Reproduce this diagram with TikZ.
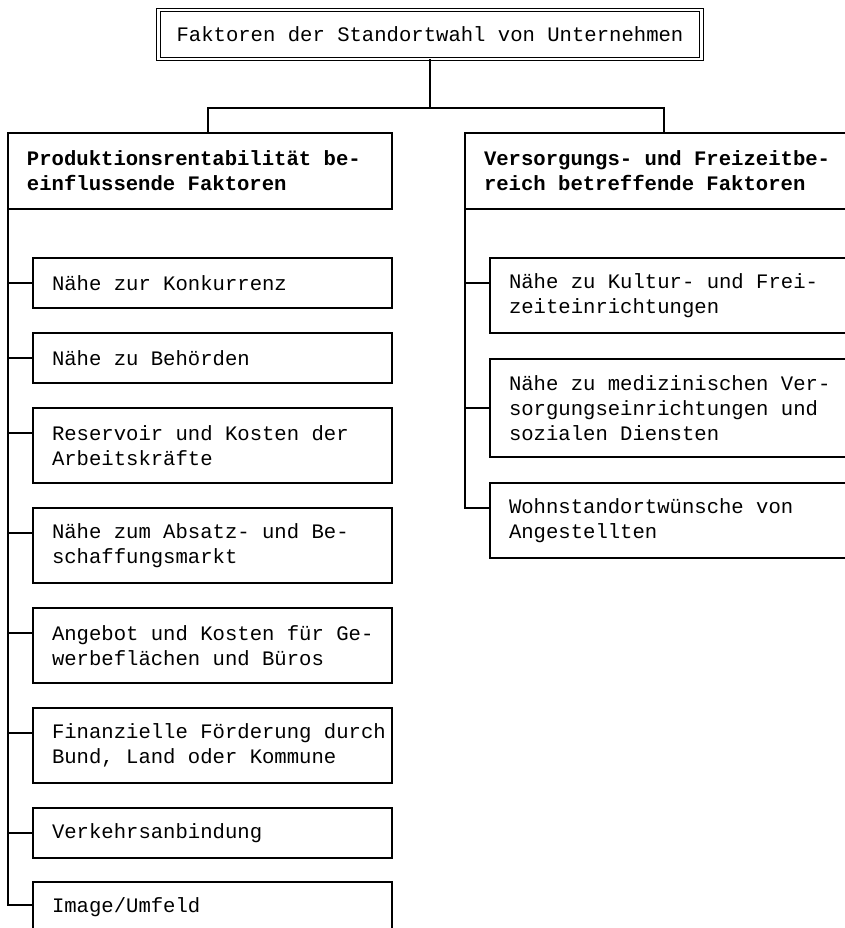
\documentclass[tikz,border=0pt]{standalone}
\usepackage{fontspec}
\setmonofont{Liberation Mono}
\begin{document}
\begin{tikzpicture}[x=1pt,y=-1pt, line width=1.1pt,
  base/.style={draw, line width=1.1pt, anchor=north west, outer sep=0pt, align=left,
    inner xsep=19pt, inner ysep=0pt, font=\ttfamily\fontsize{20.6}{25}\selectfont,
    execute at begin node={\spaceskip=0pt\xspaceskip=0pt\hfuzz=30pt}},
  lbox/.style={base, text width=321pt},
  rbox/.style={base, text width=352pt},
  hbox/.style={base, minimum height=76pt, font=\ttfamily\bfseries\fontsize{20.6}{25}\selectfont},
  titlebox/.style={draw, line width=1pt, double, double distance=2.4pt, outer sep=0pt,
    minimum width=543pt, minimum height=49pt, inner sep=0pt,
    font=\ttfamily\fontsize{20.6}{25}\selectfont},
  conn/.style={line width=1.2pt}
]
\useasboundingbox (0,0) rectangle (845,928);
\clip (0,0) rectangle (845,928);

\node[titlebox] (title) at (430,34.5) {Faktoren der Standortwahl von Unternehmen};

\node[hbox, text width=346pt] (lh) at (8,133) {\mbox{Produktionsrentabilität be-}\\einflussende Faktoren};
\node[hbox, text width=377pt] (rh) at (465,133) {Versorgungs- und Freizeitbe-\\reich betreffende Faktoren};

\node[lbox, minimum height=50pt] (c1) at (33,258) {Nähe zur Konkurrenz};
\node[lbox, minimum height=50pt] (c2) at (33,333) {Nähe zu Behörden};
\node[lbox, minimum height=75pt] (c3) at (33,408) {Reservoir und Kosten der\\Arbeitskräfte};
\node[lbox, minimum height=75pt] (c4) at (33,508) {Nähe zum Absatz- und Be-\\schaffungsmarkt};
\node[lbox, minimum height=75pt] (c5) at (33,608) {\mbox{Angebot und Kosten für Ge-}\\werbeflächen und Büros};
\node[lbox, minimum height=75pt] (c6) at (33,708) {\mbox{Finanzielle Förderung durch}\\Bund, Land oder Kommune};
\node[lbox, minimum height=50pt] (c7) at (33,808) {Verkehrsanbindung};
\node[lbox, minimum height=50pt] (c8) at (33,882) {Image/Umfeld};

\node[rbox, minimum height=75pt] (r1) at (490,258) {Nähe zu Kultur- und Frei-\\zeiteinrichtungen};
\node[rbox, minimum height=98pt] (r2) at (490,359) {Nähe zu medizinischen Ver-\\sorgungseinrichtungen und\\sozialen Diensten};
\node[rbox, minimum height=75pt] (r3) at (490,483) {Wohnstandortwünsche von\\Angestellten};

\coordinate (j) at (430,108);
\draw[conn] (title.south) -- (j);
\draw[conn] ([xshift=200pt]lh.north west) |- (j) -| ([xshift=199pt]rh.north west);

\draw[conn] (c1.west) -| (lh.south west);
\draw[conn] (c2.west) -| (lh.south west);
\draw[conn] ([yshift=12.5pt]c3.west) -| (lh.south west);
\draw[conn] ([yshift=12.5pt]c4.west) -| (lh.south west);
\draw[conn] ([yshift=12.5pt]c5.west) -| (lh.south west);
\draw[conn] ([yshift=12.5pt]c6.west) -| (lh.south west);
\draw[conn] (c7.west) -| (lh.south west);
\draw[conn] ([yshift=2pt]c8.west) -| (lh.south west);

\draw[conn] ([yshift=12.5pt]r1.west) -| (rh.south west);
\draw[conn] (r2.west) -| (rh.south west);
\draw[conn] ([yshift=12.5pt]r3.west) -| (rh.south west);
\end{tikzpicture}
\end{document}
